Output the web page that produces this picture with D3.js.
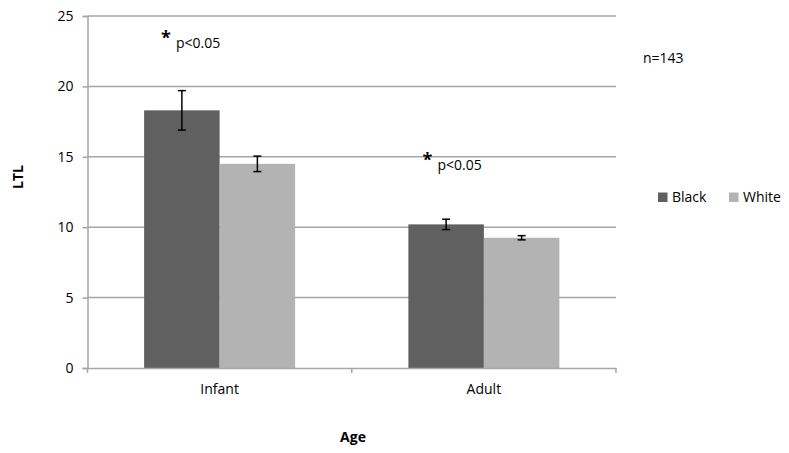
<!DOCTYPE html>
<html><head><meta charset="utf-8">
<script src="https://cdn.jsdelivr.net/npm/d3@7/dist/d3.min.js"></script>
<style>body{margin:0;background:#fff}text{font-family:"Open Sans",sans-serif;fill:#000}</style>
</head><body><svg id="c" width="789" height="453"></svg>
<script>
const categories = ["Infant", "Adult"];
const seriesNames = ["Black", "White"];
const blackValues = [18.3, 10.2];
const whiteValues = [14.5, 9.25];
const blackErrors = [1.4, 0.37];
const whiteErrors = [0.55, 0.15];
const yTicks = [0, 5, 10, 15, 20, 25];
const colors = ["#606060", "#b3b3b3"];

const svg = d3.select("#c");
const L = 87.5, R = 616, T = 16, B = 368;
const x = d3.scaleBand().domain(categories).range([L, R]).paddingInner(0).paddingOuter(0);
const x1 = d3.scaleBand().domain(seriesNames).range([0, x.bandwidth()]).paddingOuter(0.75).paddingInner(0);
const y = d3.scaleLinear().domain([0, 25]).range([B, T]);

// gridlines
svg.append("g").selectAll("line").data(yTicks.filter(d => d > 0)).join("line")
  .attr("x1", L).attr("x2", R).attr("y1", d => y(d)).attr("y2", d => y(d))
  .attr("stroke", "#a6a6a6").attr("stroke-width", 1.5);

// y axis
const ya = svg.append("g").attr("transform", `translate(${L},0)`)
  .call(d3.axisLeft(y).tickValues(yTicks).tickSize(5).tickPadding(9));
ya.select(".domain").attr("stroke", "#a6a6a6").attr("stroke-width", 1.5);
ya.selectAll(".tick line").attr("stroke", "#a6a6a6").attr("stroke-width", 1.5);
ya.selectAll("text").attr("font-size", 14).attr("font-family", "Open Sans").attr("fill", "#000");

// bars
const rows = categories.map((c, i) => ({c, vals: [
  {s: "Black", v: blackValues[i], e: blackErrors[i], col: colors[0]},
  {s: "White", v: whiteValues[i], e: whiteErrors[i], col: colors[1]}]}));
const g = svg.append("g").selectAll("g").data(rows).join("g")
  .attr("transform", d => `translate(${x(d.c)},0)`);
g.selectAll("rect").data(d => d.vals).join("rect")
  .attr("x", d => x1(d.s)).attr("width", x1.bandwidth())
  .attr("y", d => y(d.v)).attr("height", d => B - y(d.v)).attr("fill", d => d.col);

// x axis
const xa = svg.append("g").attr("transform", `translate(0,${B})`)
  .call(d3.axisBottom(x).tickSize(0).tickPadding(16));
xa.select(".domain").attr("stroke", "#a6a6a6").attr("stroke-width", 1.5);
xa.selectAll("text").attr("font-size", 14).attr("font-family", "Open Sans").attr("fill", "#000");
svg.append("g").selectAll("line").data([L, x("Adult"), R]).join("line")
  .attr("x1", d => d).attr("x2", d => d).attr("y1", B).attr("y2", B + 5)
  .attr("stroke", "#a6a6a6").attr("stroke-width", 1.5);

// error bars
const eb = g.selectAll("g.err").data(d => d.vals).join("g").attr("class", "err");
eb.append("line").attr("x1", d => x1(d.s) + x1.bandwidth() / 2).attr("x2", d => x1(d.s) + x1.bandwidth() / 2)
  .attr("y1", d => y(d.v + d.e)).attr("y2", d => y(d.v - d.e)).attr("stroke", "#000").attr("stroke-width", 1.5);
eb.selectAll("line.cap").data(d => [{d, v: d.v + d.e}, {d, v: d.v - d.e}]).join("line").attr("class", "cap")
  .attr("x1", o => x1(o.d.s) + x1.bandwidth() / 2 - 4).attr("x2", o => x1(o.d.s) + x1.bandwidth() / 2 + 4)
  .attr("y1", o => y(o.v)).attr("y2", o => y(o.v)).attr("stroke", "#000").attr("stroke-width", 1.5);

// annotations
function star(xs, ys) {
  svg.append("text").attr("x", xs).attr("y", ys + 13.5).attr("font-size", 18).attr("font-weight", "bold").text("*");
  svg.append("text").attr("x", xs + 15).attr("y", ys + 17.5).attr("font-size", 14).text("p<0.05");
}
star(161, 30);
star(422.5, 152.5);
svg.append("text").attr("x", 643).attr("y", 63).attr("font-size", 14).text("n=143");

// axis titles
svg.append("text").attr("transform", "translate(23,177) rotate(-90)").attr("text-anchor", "middle")
  .attr("font-size", 14).attr("font-weight", "bold").text("LTL");
svg.append("text").attr("x", 353).attr("y", 442).attr("text-anchor", "middle")
  .attr("font-size", 14).attr("font-weight", "bold").text("Age");

// legend
const lg = svg.append("g").selectAll("g").data(seriesNames).join("g")
  .attr("transform", (d, i) => `translate(${658 + i * 71},0)`);
lg.append("rect").attr("x", 0).attr("y", 192.5).attr("width", 9.5).attr("height", 9.5).attr("fill", (d, i) => colors[i]);
lg.append("text").attr("x", 14).attr("y", 202).attr("font-size", 14).text(d => d);
</script></body></html>
